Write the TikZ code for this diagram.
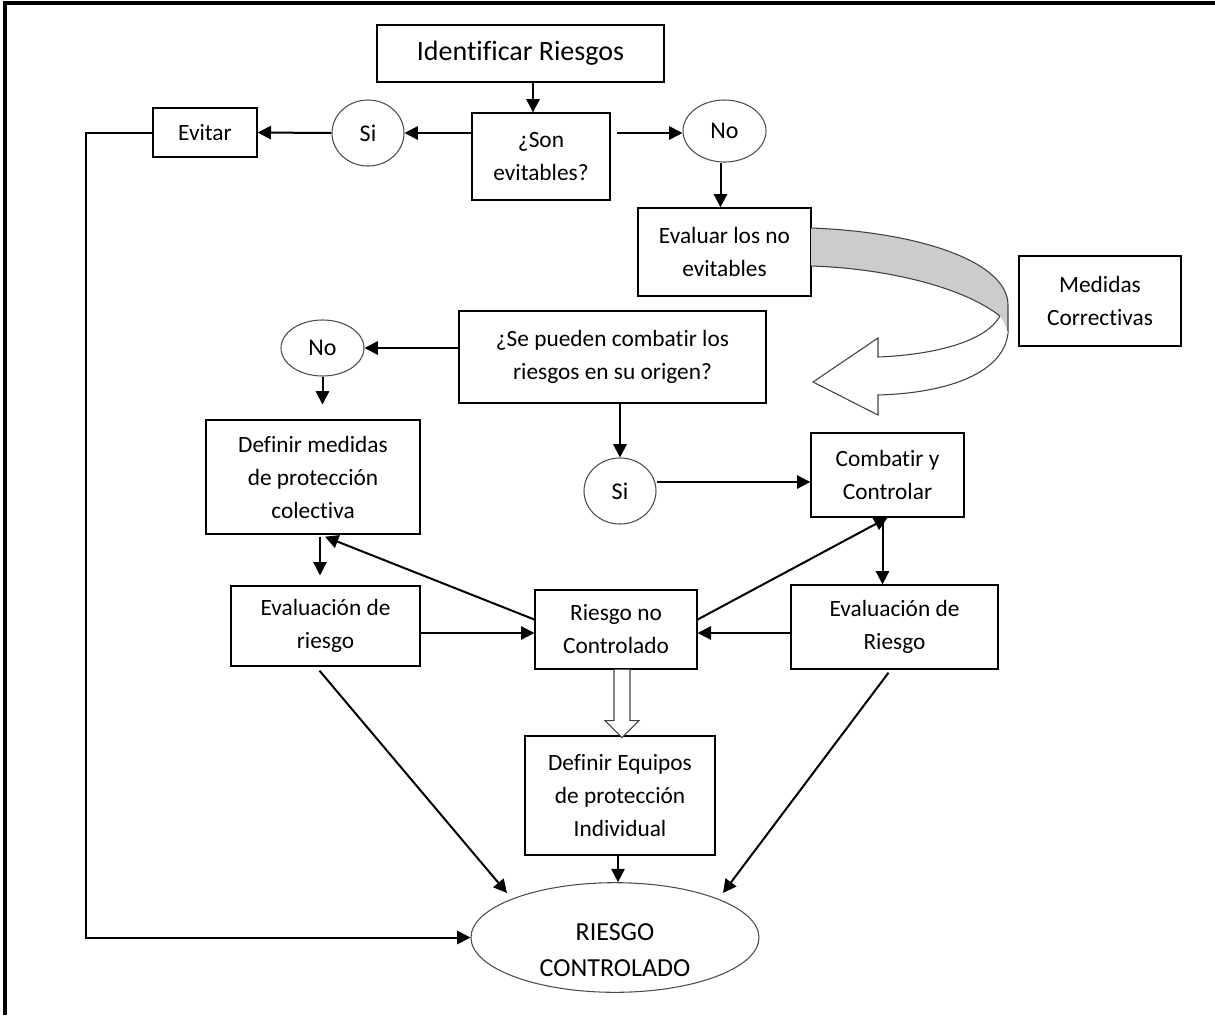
\documentclass[tikz,border=0pt]{standalone}
\usepackage{fontspec}
\setmainfont{Carlito}[Ligatures=NoCommon]
\usetikzlibrary{shapes.geometric,calc,arrows.meta}

\begin{document}
\begin{tikzpicture}[x=0.75pt,y=-0.75pt,
  sz/.style 2 args={minimum width=#1*0.75pt,minimum height=#2*0.75pt},
  box/.style={draw=black,line width=1pt,rectangle,inner sep=0pt,align=center,
    font=\fontsize{17.5}{24.75}\selectfont},
  oval/.style={draw=black!70,line width=0.8pt,ellipse,inner sep=0pt,align=center,
    font=\fontsize{18}{27}\selectfont},
  arr/.style={-{Triangle[length=10pt,width=10pt]},line width=1.5pt},
]
\useasboundingbox (0,0) rectangle (1215,1015);
% frame on the top and left edges
\draw[line width=2.3pt] (5,1015) -- (5,3) -- (1215,3);

% boxes and ovals
\node[box,sz={287}{57},font=\fontsize{21}{24}\selectfont] (ident) at (520.5,53.5) {Identificar Riesgos};
\node[box,sz={138}{87}] (son) at (541,156.5) {¿Son\\evitables?};
\node[oval,sz={72}{66}] (si1) at (368,133) {Si};
\node[box,sz={104}{49}] (evitar) at (205,132.5) {Evitar};
\node[oval,sz={83}{62}] (no1) at (724.5,131) {No};
\node[box,sz={173}{88}] (evaluar) at (724.5,252) {Evaluar los no\\evitables};
\node[box,sz={162}{90}] (medidas) at (1100,301) {Medidas\\Correctivas};
\node[box,sz={307}{92}] (se) at (612.5,357) {¿Se pueden combatir los\\riesgos en su origen?};
\node[oval,sz={83}{56}] (no2) at (322.5,348) {No};
\node[box,sz={214}{114}] (definir) at (313,477) {Definir medidas\\de protección\\colectiva};
\node[oval,sz={72}{66}] (si2) at (620,491) {Si};
\node[box,sz={153}{84}] (combatir) at (887.5,475) {Combatir y\\Controlar};
\node[box,sz={207}{84}] (evalR) at (894.5,627) {Evaluación de\\Riesgo};
\node[box,sz={162}{79}] (rnc) at (616,629.5) {Riesgo no\\Controlado};
\node[box,sz={189}{80}] (evalr) at (325.5,626) {Evaluación de\\riesgo};
\node[box,sz={190}{119}] (equipos) at (620,795.5) {Definir Equipos\\de protección\\Individual};
% the strut sets the two lines a little below the middle of the oval
\node[oval,sz={288}{105},font=\fontsize{19.5}{27}\selectfont] (riesgo) at (615,937.5) {\rule{0pt}{31pt}RIESGO\\CONTROLADO};

% curved band from "Evaluar los no evitables" back towards the left
\fill[black!20] (811,228) .. controls (920,232) and (1008,262) .. (1008,305)
  -- (1008,333) .. controls (1006,325) and (1003,320) .. (1000,316)
  .. controls (960,285) and (880,268) .. (811,266) -- cycle;
\draw[line width=0.8pt,black!75] (811,228) .. controls (920,232) and (1008,262) .. (1008,305) -- (1008,333);
\draw[line width=0.8pt,black!75] (811,266) .. controls (880,268) and (960,285) .. (1000,316);
\draw[line width=0.8pt,black!75,fill=white] (1000,316) .. controls (985,343) and (930,355) .. (878,357)
  -- (878,338) -- (813,382) -- (878,415) -- (878,395)
  .. controls (950,393) and (1004,372) .. (1008,333);

% connectors
\coordinate (p1) at ($(son.north)+(-8,0)$);
\draw[arr] (p1 |- ident.south) -- (p1);
\draw[arr] (si1 -| son.west) -- (si1.east);
\draw[arr] (si1.west) -- (evitar.east);
\draw[arr] (evitar.west) -- ++(-66,0) |- (riesgo.west);
\draw[arr] ($(no1.west)+(-65,2)$) -- ($(no1.west)+(0,2)$);
\draw[arr] ($(no1.south)+(-4,0)$) -- ($(evaluar.north)+(-4,0)$);
\draw[arr] (no2 -| se.west) -- (no2.east);
\draw[arr] (no2.south) -- ++(0,28);
\draw[arr] (si2.north |- se.south) -- (si2.north);
\draw[arr] ($(si2.east)+(0,-9)$) -- ($(si2.east -| combatir.west)+(0,-9)$);
\coordinate (p2) at ($(combatir.south)+(-5,0)$);
\draw[arr] (p2) -- (p2 |- evalR.north);
\draw[arr] ($(evalR.west)+(0,6)$) -- ($(evalR.west -| rnc.east)+(0,6)$);
\draw[arr] ($(rnc.east)+(0,-10)$) -- (combatir.south);
\draw[arr] ($(rnc.west)+(0,-10)$) -- ($(definir.south)+(12,2)$);
\coordinate (p3) at ($(definir.south)+(7,2)$);
\draw[arr] (p3) -- ($(p3 |- evalr.north)+(0,-10)$);
\draw[arr] ($(evalr.east)+(0,7)$) -- ($(evalr.east -| rnc.west)+(0,7)$);
\draw[arr] ($(equipos.south)+(-2,0)$) -- ($(riesgo.north)+(3,0)$);
\draw[arr] ($(evalr.south)+(-6,4)$) -- ($(riesgo.center)+(-108,-44.5)$);
\draw[arr] ($(evalR.south)+(-6,3)$) -- ($(riesgo.center)+(108,-44.5)$);

% hollow arrow from "Riesgo no Controlado" to "Definir Equipos"
\coordinate (h) at ($(rnc.south)+(6,0)$);
\draw[line width=0.8pt,black!75,fill=white] ($(h)+(-8,0)$) -- ($(h)+(-8,51)$) -- ($(h)+(-17,51)$)
  -- ($(h)+(0,68)$) -- ($(h)+(17,51)$) -- ($(h)+(8,51)$) -- ($(h)+(8,0)$);
\end{tikzpicture}
\end{document}
